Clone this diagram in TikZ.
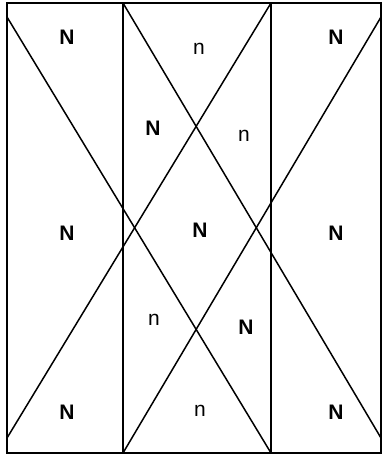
\documentclass[tikz,border=0pt]{standalone}
\usepackage{fontspec}
\setmainfont{Liberation Sans}
\usepackage{tikz}
\usetikzlibrary{calc}

\begin{document}
\begin{tikzpicture}[
  x=1pt,y=-1pt,
  frame/.style={draw=black,line width=2pt},
  cut/.style={draw=black,line width=1.5pt},
  bigN/.style={font=\fontsize{21}{21}\selectfont\bfseries},
  smalln/.style={font=\fontsize{21}{21}\selectfont}
]
\useasboundingbox (0,0) rectangle (383,456);
% frame and columns
\coordinate (tl) at (7,3);  \coordinate (br) at (381,453);
\coordinate (c1t) at (123,3); \coordinate (c1b) at (123,453);
\coordinate (c2t) at (271,3); \coordinate (c2b) at (271,453);
\draw[frame] (tl) rectangle (br);
\draw[frame] (c1t)--(c1b);
\draw[frame] (c2t)--(c2b);
% diagonals
\coordinate (la) at (7,17);   \coordinate (lb) at (7,438);
\coordinate (ra) at (381,17); \coordinate (rb) at (381,438);
\draw[cut] (la)--(c2b);
\draw[cut] (c1t)--(rb);
\draw[cut] (ra)--(c1b);
\draw[cut] (c2t)--(lb);
% labels
\node[bigN] (n1) at (67,37) {N};
\node[smalln] (n2) at (199,49) {n};
\node[bigN] (n3) at (336,37) {N};
\node[bigN] (n4) at (153,128) {N};
\node[smalln] (n5) at (244,136) {n};
\node[bigN] (n6) at (67,233) {N};
\node[bigN] (n7) at (200,230) {N};
\node[bigN] (n8) at (336,233) {N};
\node[smalln] (n9) at (154,320) {n};
\node[bigN] (n10) at (246,327) {N};
\node[bigN] (n11) at (67,412) {N};
\node[smalln] (n12) at (200,411) {n};
\node[bigN] (n13) at (336,412) {N};
\end{tikzpicture}
\end{document}
